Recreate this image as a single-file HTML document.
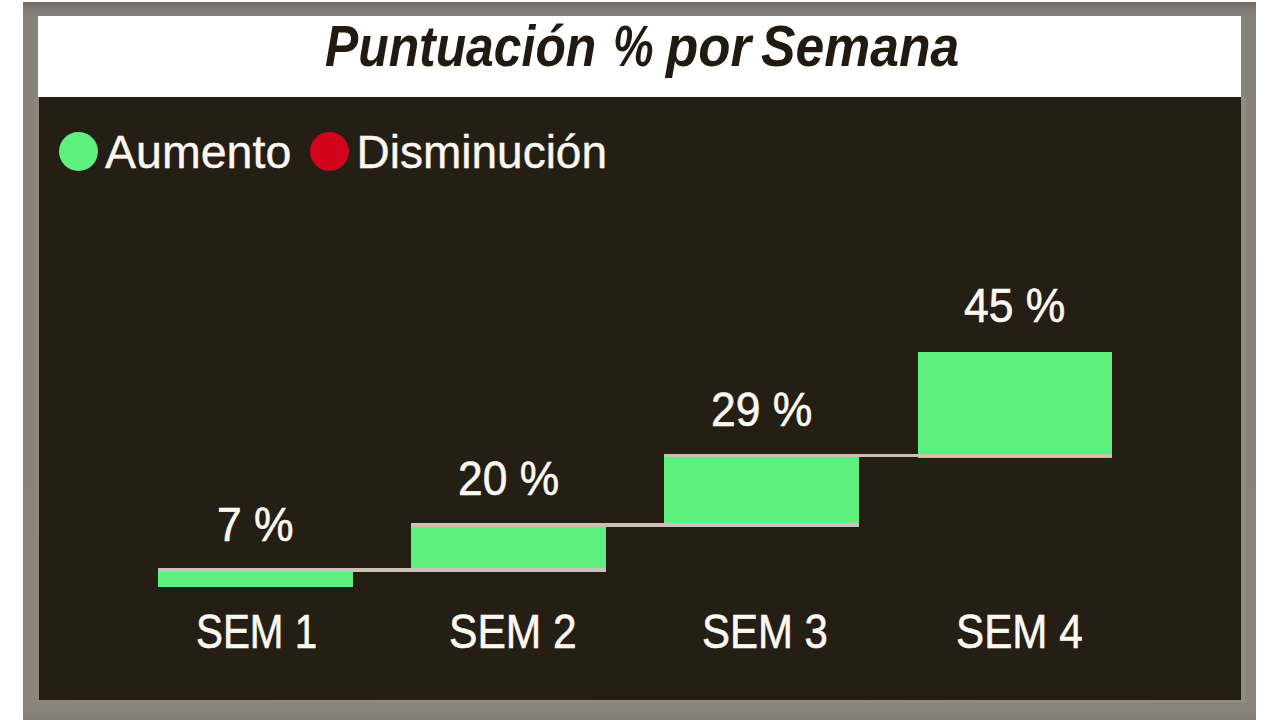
<!DOCTYPE html>
<html><head><meta charset="utf-8">
<style>
html,body{margin:0;padding:0;width:1280px;height:720px;overflow:hidden;background:#fff;}
body{position:relative;font-family:"Liberation Sans",sans-serif;}
#frame{position:absolute;left:23px;top:1.5px;width:1233px;height:718.5px;background:linear-gradient(to bottom,#6c6860 0,#75716a 2px,#807c75 7px,#86837c 14px,#86837b 50%,#88857d 705px,#807d76 720px);}
#bevel{position:absolute;left:33px;top:97px;width:1213px;height:606px;background:linear-gradient(to right,#8f877d,#928a80 50%,#948b82);}
#titlebar{position:absolute;left:38px;top:16px;width:1203px;height:81px;background:#fff;}
#panel{position:absolute;left:38.5px;top:97px;width:1202.5px;height:603.3px;background:#251e14;}
.t{position:absolute;white-space:nowrap;line-height:1;}
.ti{top:17.4px;font-size:58px;font-weight:bold;font-style:italic;color:#211a11;transform-origin:0 0;}
.leg{color:#fbf8f2;font-size:46px;top:129px;transform-origin:0 0;-webkit-text-stroke:0.4px #fbf8f2;}
.dot{position:absolute;width:39px;height:39px;border-radius:50%;top:132px;}
.bar{position:absolute;background:#5ef07f;}
.ln{position:absolute;background:#c9c0b6;height:4px;}
.lab{color:#fbf8f2;font-size:48px;transform-origin:0 0;-webkit-text-stroke:0.6px #fbf8f2;}
</style></head><body>
<div id="frame"></div>
<div id="bevel"></div>
<div id="titlebar"></div>
<div id="panel"></div>
<div class="t ti" style="left:325.4px;transform:scaleX(0.859)">Puntuación</div>
<div class="t ti" style="left:612.6px;transform:scaleX(0.787)">%</div>
<div class="t ti" style="left:665.9px;transform:scaleX(0.912)">por</div>
<div class="t ti" style="left:761.1px;transform:scaleX(0.891)">Semana</div>
<div class="dot" style="left:59px;background:#5ef07f"></div>
<div class="t leg" style="left:105px;transform:scaleX(1.012)">Aumento</div>
<div class="dot" style="left:310px;background:#d0051c"></div>
<div class="t leg" style="left:356.5px">Disminución</div>

<div class="bar" style="left:158px;top:568.3px;width:194.5px;height:18.3px"></div>
<div class="bar" style="left:411.2px;top:522.5px;width:194.9px;height:49.8px"></div>
<div class="bar" style="left:664px;top:453.8px;width:195px;height:73px"></div>
<div class="bar" style="left:918.4px;top:351.5px;width:193.8px;height:106px"></div>
<div class="ln" style="left:158px;top:568.4px;width:448.1px;height:3.9px"></div>
<div class="ln" style="left:411.2px;top:522.6px;width:447.8px;height:4px"></div>
<div class="ln" style="left:664px;top:453.8px;width:448.2px;height:3.6px"></div>

<div class="t lab" style="left:216.70px;top:501.10px;transform:scaleX(0.9263)">7 %</div>
<div class="t lab" style="left:458.20px;top:454.60px;transform:scaleX(0.9243)">20 %</div>
<div class="t lab" style="left:710.90px;top:386.10px;transform:scaleX(0.9263)">29 %</div>
<div class="t lab" style="left:964.25px;top:281.60px;transform:scaleX(0.9263)">45 %</div>
<div class="t lab" style="left:196.20px;top:608.00px;transform:scaleX(0.8411)">SEM 1</div>
<div class="t lab" style="left:448.80px;top:608.00px;transform:scaleX(0.8871)">SEM 2</div>
<div class="t lab" style="left:702.00px;top:608.00px;transform:scaleX(0.8744)">SEM 3</div>
<div class="t lab" style="left:955.80px;top:608.00px;transform:scaleX(0.8793)">SEM 4</div>
</body></html>
